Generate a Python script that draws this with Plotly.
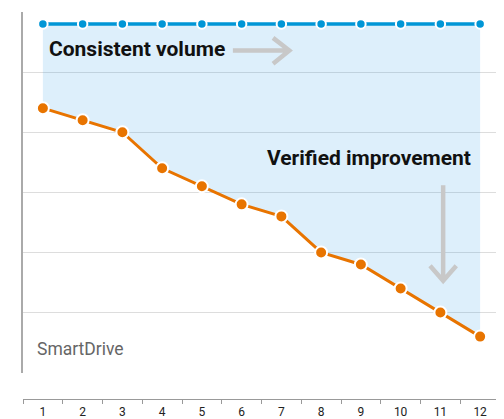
import plotly.graph_objects as go

# ---- data ----
periods = ["1", "2", "3", "4", "5", "6", "7", "8", "9", "10", "11", "12"]
volume = [58, 58, 58, 58, 58, 58, 58, 58, 58, 58, 58, 58]
smartdrive = [44, 42, 40, 34, 31, 28, 26, 20, 18, 14, 10, 6]
grid_vals = [10, 20, 30, 40, 50]

BLUE = "#0096d6"
ORANGE = "#e87400"
ARROW = "#c8c8c8"
COND = "Roboto, sans-serif"

fig = go.Figure()
fig.add_trace(go.Scatter(
    x=periods, y=volume, mode="lines+markers",
    line=dict(color=BLUE, width=3.5),
    marker=dict(color=BLUE, size=9.5, line=dict(color="white", width=2)),
    hoverinfo="skip",
))
fig.add_trace(go.Scatter(
    x=periods, y=smartdrive, mode="lines+markers",
    fill="tonexty", fillcolor="rgba(30,150,230,0.15)",
    line=dict(color=ORANGE, width=3),
    marker=dict(color=ORANGE, size=12, line=dict(color="white", width=2)),
    hoverinfo="skip",
))

# arrows (x in category index units, y in data units)
right_arrow = "M 4.78 53.6 L 6.19 53.6 M 5.79 55.7 L 6.2 53.6 L 5.79 51.4"
down_arrow = "M 10.07 31.2 L 10.07 15.3 M 9.74 17.8 L 10.07 15.3 L 10.40 17.8"
for p in (right_arrow, down_arrow):
    fig.add_shape(type="path", path=p, xref="x", yref="y",
                  line=dict(color=ARROW, width=4.5), layer="above")

fig.add_annotation(x=0.10, y=53.9, xref="x", yref="y", text="<b>Consistent volume</b>",
                   showarrow=False, xanchor="left", yanchor="middle",
                   font=dict(family=COND, size=21, color="#111"))
fig.add_annotation(x=10.82, y=35.7, xref="x", yref="y", text="<b>Verified improvement</b>",
                   showarrow=False, xanchor="right", yanchor="middle",
                   font=dict(family=COND, size=21, color="#111"))
fig.add_annotation(x=-0.2, y=4.0, xref="x", yref="y", text="SmartDrive",
                   showarrow=False, xanchor="left", yanchor="middle",
                   font=dict(family="Roboto, sans-serif", size=17.5, color="#666"))

# the page puts the figure 8px in from the top-left corner
fig.update_layout(
    width=496, height=411,
    margin=dict(l=15, r=4, t=4, b=20, autoexpand=False),
    paper_bgcolor="white", plot_bgcolor="white",
    showlegend=False,
    xaxis=dict(
        type="category", range=[-0.5, 11.5], anchor="free", position=0,
        automargin=False,
        showgrid=False, zeroline=False,
        showline=True, linecolor="#999", linewidth=1,
        ticks="outside", tickson="boundaries", ticklen=4, tickcolor="#999",
        ticklabelstandoff=2,
        tickfont=dict(family="Roboto, Arial, sans-serif", size=12, color="#222"),
    ),
    yaxis=dict(
        range=[0, 60], domain=[0.068, 1], automargin=False,
        tickvals=grid_vals, showticklabels=False,
        showgrid=True, gridcolor="#dddddd", gridwidth=1,
        zeroline=False, showline=True, linecolor="#aaaaaa", linewidth=2,
        ticks="",
    ),
)

fig.write_html("out.html")
